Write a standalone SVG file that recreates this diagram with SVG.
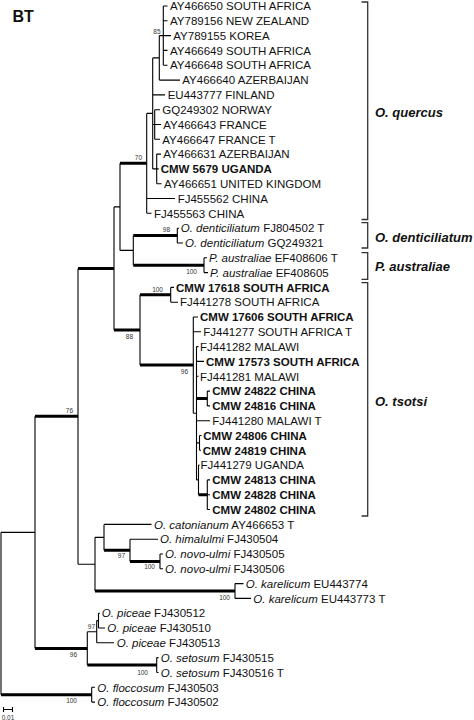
<svg xmlns="http://www.w3.org/2000/svg" width="474" height="720" viewBox="0 0 474 720">
<style>
.t{font-family:"Liberation Sans",Arial,sans-serif;font-size:11.5px;fill:#111}
.b{font-weight:bold}
.i{font-style:italic}
.s{font-family:"Liberation Sans",Arial,sans-serif;font-size:6.5px;fill:#333;text-anchor:end}
.cl{font-family:"Liberation Sans",Arial,sans-serif;font-size:13px;font-weight:bold;font-style:italic;fill:#111}
.ln{stroke:#000;stroke-width:1.1;fill:none}
.tk{stroke:#000;stroke-width:3;fill:none}
.br{stroke:#333;stroke-width:1.3;fill:none}
</style>
<rect width="474" height="720" fill="#fff"/>
<text x="12.5" y="21.5" font-family="Liberation Sans,Arial,sans-serif" font-size="16" font-weight="bold" fill="#111">BT</text>
<g id="connectors">
<path class="ln" d="M163.3 6V65.2M163.3 6H167.5M163.3 20.8H167.5M163.3 35.6H171M163.3 50.4H167.5M163.3 65.2H167.5M159.3 35.6H163.3M159.3 35.6V80.1M159.3 80.1H180M152.7 57.9V168.9M152.7 57.9H159.3M152.7 94.9H165M152.7 124.5H154.7M152.7 168.9H156.7M154.7 109.7V139.3M154.7 109.7H160M154.7 124.5H161M154.7 139.3H160M156.7 154.1V183.7M156.7 154.1H161M156.7 168.9H158.7M156.7 183.7H161.5M146.7 113.4V213.3M146.7 113.4H152.7M146.7 198.5H175M146.7 213.3H151.5"/>
<path class="ln" d="M177.3 228.2V243M177.3 228.2H179M177.3 243H183M204 257.8V272.6M204 257.8H207M204 272.6H208M133.3 235.6V265.2M120 250.4H133.3M120 163.35V250.4M114 206.9H120"/>
<path class="ln" d="M170.7 287.4V302.2M170.7 287.4H174M170.7 302.2H178M207.3 479.9V509.5M207.3 479.9H210M207.3 494.7H210M207.3 509.5H210M198.5 465.1V494.7M198.5 465.1H199.5M207.3 391.1V405.9M207.3 391.1H210M207.3 405.9H210M199.5 435.5V450.3M199.5 435.5H201.5M199.5 450.3H201M196.5 346.6V479.9M196.5 346.6H198.5M196.5 361.4H204M196.5 376.3H198.5M196.5 420.7H210M196.5 442.9H199.5M196.5 479.9H198.5M193.3 317V413.25M193.3 317H198M193.3 331.8H201M193.3 413.25H196.5M140 294.8V365.1M114 206.9V329.95"/>
<path class="ln" d="M160 554V568.8M160 554H163M160 568.8H163M130 539.2V561.4M130 539.2H158M104 524.4V550.3M104 524.4H151.5M235 583.6V598.4M235 583.6H243.5M235 598.4H251M95 537.35V591M95 537.35H104M78 268.4V564.2M78 564.2H95M98.5 613.2V628M98.5 613.2H100M98.5 628H105M96.7 620.6V642.8M96.7 620.6H98.5M96.7 642.8H114M156.7 657.6V672.5M156.7 657.6H158.5M156.7 672.5H158.5M87.3 631.7V665.05M87.3 631.7H96.7M35 416.3V648.4M1 532.35H35M91.7 687.3V702.1M91.7 687.3H95M91.7 702.1H95M1 532.35V694.7"/>
<path class="tk" d="M120 163.35H146.7M133.3 235.6H177.3M133.3 265.2H204M140 294.8H170.7M198.5 494.7H207.3M196.5 398.5H207.3M140 365.1H193.3M114 329.95H140M78 268.4H114M130 561.4H160M104 550.3H130M95 591H235M35 416.3H78M87.3 665.05H156.7M35 648.4H87.3M1 694.7H91.7"/>
</g>
<g id="scalebar">
<path class="ln" d="M3.5 709.5H12.5M3.5 707V712M12.5 707V712"/>
<text x="8" y="719.5" font-family="Liberation Sans,Arial,sans-serif" font-size="6.5" fill="#333" text-anchor="middle">0.01</text>
</g>
<g id="supports">
<text class="s" x="160.5" y="33.5">85</text>
<text class="s" x="142" y="160">70</text>
<text class="s" x="170" y="232">98</text>
<text class="s" x="197" y="274">100</text>
<text class="s" x="163" y="291.5">100</text>
<text class="s" x="133" y="338.5">88</text>
<text class="s" x="188" y="374">96</text>
<text class="s" x="73" y="412.5">76</text>
<text class="s" x="125" y="558">97</text>
<text class="s" x="155" y="569">100</text>
<text class="s" x="230" y="600">100</text>
<text class="s" x="95" y="629">97</text>
<text class="s" x="77" y="656.5">96</text>
<text class="s" x="148" y="674.5">100</text>
<text class="s" x="77" y="703">100</text>
</g>
<g id="tip-AY466650"><text class="t" x="170" y="10.2">AY466650 SOUTH AFRICA</text></g>
<g id="tip-AY789156"><text class="t" x="170" y="25">AY789156 NEW ZEALAND</text></g>
<g id="tip-AY789155"><text class="t" x="173.3" y="39.8">AY789155 KOREA</text></g>
<g id="tip-AY466649"><text class="t" x="170" y="54.6">AY466649 SOUTH AFRICA</text></g>
<g id="tip-AY466648"><text class="t" x="170" y="69.4">AY466648 SOUTH AFRICA</text></g>
<g id="tip-AY466640"><text class="t" x="182.3" y="84.3">AY466640 AZERBAIJAN</text></g>
<g id="tip-EU443777"><text class="t" x="167.7" y="99.1">EU443777 FINLAND</text></g>
<g id="tip-GQ249302"><text class="t" x="162.3" y="113.9">GQ249302 NORWAY</text></g>
<g id="tip-AY466643"><text class="t" x="163.3" y="128.7">AY466643 FRANCE</text></g>
<g id="tip-AY466647"><text class="t" x="162.3" y="143.5">AY466647 FRANCE T</text></g>
<g id="tip-AY466631"><text class="t" x="163.3" y="158.3">AY466631 AZERBAIJAN</text></g>
<g id="tip-CMW5679"><text class="t b" x="160.7" y="173.1">CMW 5679 UGANDA</text></g>
<g id="tip-AY466651"><text class="t" x="164" y="187.9">AY466651 UNITED KINGDOM</text></g>
<g id="tip-FJ455562"><text class="t" x="177.7" y="202.7">FJ455562 CHINA</text></g>
<g id="tip-FJ455563"><text class="t" x="154" y="217.5">FJ455563 CHINA</text></g>
<g id="tip-FJ804502"><text class="t" x="180.7" y="232.4"><tspan class="i">O. denticiliatum</tspan> FJ804502 T</text></g>
<g id="tip-GQ249321"><text class="t" x="185" y="247.2"><tspan class="i">O. denticiliatum</tspan> GQ249321</text></g>
<g id="tip-EF408606"><text class="t" x="209" y="262"><tspan class="i">P. australiae</tspan> EF408606 T</text></g>
<g id="tip-EF408605"><text class="t" x="210" y="276.8"><tspan class="i">P. australiae</tspan> EF408605</text></g>
<g id="tip-CMW17618"><text class="t b" x="176" y="291.6">CMW 17618 SOUTH AFRICA</text></g>
<g id="tip-FJ441278"><text class="t" x="180" y="306.4">FJ441278 SOUTH AFRICA</text></g>
<g id="tip-CMW17606"><text class="t b" x="200" y="321.2">CMW 17606 SOUTH AFRICA</text></g>
<g id="tip-FJ441277"><text class="t" x="203.3" y="336">FJ441277 SOUTH AFRICA T</text></g>
<g id="tip-FJ441282"><text class="t" x="200" y="350.8">FJ441282 MALAWI</text></g>
<g id="tip-CMW17573"><text class="t b" x="206" y="365.6">CMW 17573 SOUTH AFRICA</text></g>
<g id="tip-FJ441281"><text class="t" x="200" y="380.5">FJ441281 MALAWI</text></g>
<g id="tip-CMW24822"><text class="t b" x="212.3" y="395.3">CMW 24822 CHINA</text></g>
<g id="tip-CMW24816"><text class="t b" x="212.3" y="410.1">CMW 24816 CHINA</text></g>
<g id="tip-FJ441280"><text class="t" x="212.3" y="424.9">FJ441280 MALAWI T</text></g>
<g id="tip-CMW24806"><text class="t b" x="203.3" y="439.7">CMW 24806 CHINA</text></g>
<g id="tip-CMW24819"><text class="t b" x="202.7" y="454.5">CMW 24819 CHINA</text></g>
<g id="tip-FJ441279"><text class="t" x="200.5" y="469.3">FJ441279 UGANDA</text></g>
<g id="tip-CMW24813"><text class="t b" x="212.3" y="484.1">CMW 24813 CHINA</text></g>
<g id="tip-CMW24828"><text class="t b" x="212.3" y="498.9">CMW 24828 CHINA</text></g>
<g id="tip-CMW24802"><text class="t b" x="212.3" y="513.7">CMW 24802 CHINA</text></g>
<g id="tip-AY466653"><text class="t" x="154" y="528.6"><tspan class="i">O. catonianum</tspan> AY466653 T</text></g>
<g id="tip-FJ430504"><text class="t" x="160" y="543.4"><tspan class="i">O. himalulmi</tspan> FJ430504</text></g>
<g id="tip-FJ430505"><text class="t" x="165" y="558.2"><tspan class="i">O. novo-ulmi</tspan> FJ430505</text></g>
<g id="tip-FJ430506"><text class="t" x="165" y="573"><tspan class="i">O. novo-ulmi</tspan> FJ430506</text></g>
<g id="tip-EU443774"><text class="t" x="245.7" y="587.8"><tspan class="i">O. karelicum</tspan> EU443774</text></g>
<g id="tip-EU443773"><text class="t" x="253.3" y="602.6"><tspan class="i">O. karelicum</tspan> EU443773 T</text></g>
<g id="tip-FJ430512"><text class="t" x="101.7" y="617.4"><tspan class="i">O. piceae</tspan> FJ430512</text></g>
<g id="tip-FJ430510"><text class="t" x="107.3" y="632.2"><tspan class="i">O. piceae</tspan> FJ430510</text></g>
<g id="tip-FJ430513"><text class="t" x="116.7" y="647"><tspan class="i">O. piceae</tspan> FJ430513</text></g>
<g id="tip-FJ430515"><text class="t" x="160.7" y="661.8"><tspan class="i">O. setosum</tspan> FJ430515</text></g>
<g id="tip-FJ430516"><text class="t" x="160.7" y="676.7"><tspan class="i">O. setosum</tspan> FJ430516 T</text></g>
<g id="tip-FJ430503"><text class="t" x="97.3" y="691.5"><tspan class="i">O. floccosum</tspan> FJ430503</text></g>
<g id="tip-FJ430502"><text class="t" x="97.3" y="706.3"><tspan class="i">O. floccosum</tspan> FJ430502</text></g>
<g id="clade-quercus"><path class="br" d="M361.5 2H367.7V219.5H361.5"/><text class="cl" x="375" y="117.3">O. quercus</text></g>
<g id="clade-denticiliatum"><path class="br" d="M361.5 222.7H367.7V248H361.5"/><text class="cl" x="375" y="242.3">O. denticiliatum</text></g>
<g id="clade-australiae"><path class="br" d="M361.5 252.7H367.7V279.3H361.5"/><text class="cl" x="375" y="270.6">P. australiae</text></g>
<g id="clade-tsotsi"><path class="br" d="M361.5 282.7H367.7V516H361.5"/><text class="cl" x="375" y="406.3">O. tsotsi</text></g>
</svg>
